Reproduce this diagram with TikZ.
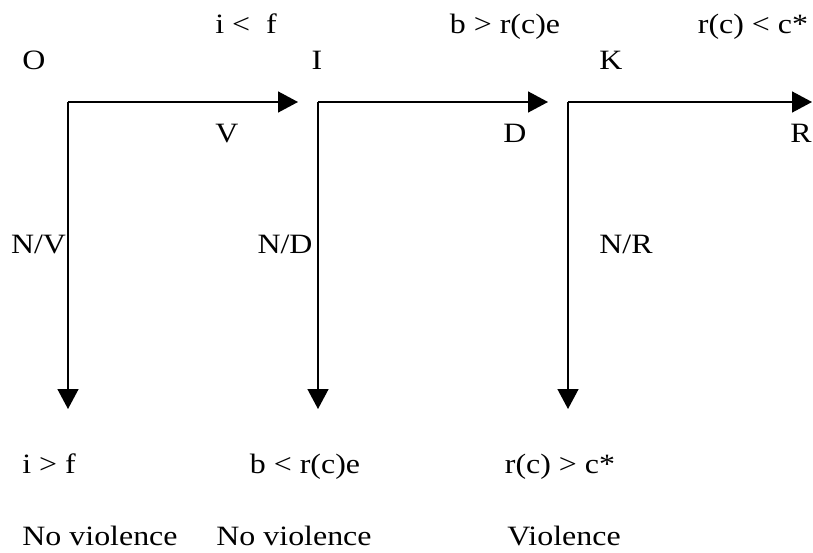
\documentclass[tikz,border=0pt]{standalone}
\usepackage{fontspec}
\setmainfont[FakeStretch=1.14]{Liberation Serif}
\usetikzlibrary{arrows.meta}
\begin{document}
\begin{tikzpicture}[x=1pt,y=-1pt,
  lbl/.style={inner sep=0pt,anchor=base,font=\fontsize{28}{32}\selectfont},
  arr/.style={line width=1.5pt,-{Triangle[length=20pt,width=21pt]}}]
\useasboundingbox (0,0) rectangle (813,553);
% top conditions
\node[lbl] (t1) at (246,34) {i <\ \ f};
\node[lbl] (t2) at (505,34) {b > r(c)e};
\node[lbl] (t3) at (753,34) {r(c) < c*};
% player labels
\node[lbl] (pO) at (34,70) {O};
\node[lbl] (pI) at (317,70) {I};
\node[lbl] (pK) at (611,70) {K};
% action labels
\node[lbl] (aV) at (227,143) {V};
\node[lbl] (aD) at (515,143) {D};
\node[lbl] (aR) at (801,143) {R};
\node[lbl] (nV) at (38.5,253) {N/V};
\node[lbl] (nD) at (285,253) {N/D};
\node[lbl] (nR) at (626,253) {N/R};
% bottom conditions
\node[lbl] (b1) at (49,473) {i > f};
\node[lbl] (b2) at (305,473) {b < r(c)e};
\node[lbl] (b3) at (560,473) {r(c) > c*};
\node[lbl] (o1) at (100,545) {No violence};
\node[lbl] (o2) at (294,545) {No violence};
\node[lbl] (o3) at (564,545) {Violence};
% arrow geometry
\coordinate (c1) at (68,102);
\coordinate (c2) at (318,102);
\coordinate (c3) at (568,102);
\coordinate (h1) at (298,102);
\coordinate (h2) at (548,102);
\coordinate (h3) at (812,102);
\coordinate (v1) at (68,409);
\coordinate (v2) at (318,409);
\coordinate (v3) at (568,409);
\draw[arr] (c1) -- (h1);
\draw[arr] (c2) -- (h2);
\draw[arr] (c3) -- (h3);
\draw[arr] (c1) -- (v1);
\draw[arr] (c2) -- (v2);
\draw[arr] (c3) -- (v3);
\end{tikzpicture}
\end{document}
